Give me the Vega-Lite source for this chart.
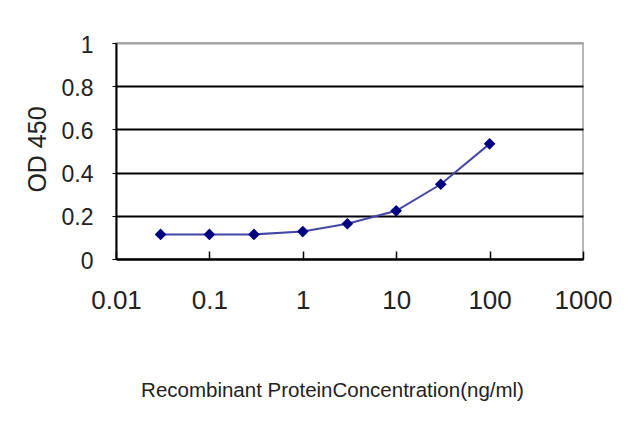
{
  "$schema": "https://vega.github.io/schema/vega-lite/v6.json",
  "autosize": "none",
  "width": 467,
  "height": 216,
  "padding": {"left": 116, "top": 43, "right": 57, "bottom": 168},
  "background": "white",
  "config": {
    "view": {"stroke": "#a0a0a0", "strokeWidth": 1.5},
    "font": "Liberation Sans"
  },
  "data": {
    "values": [
      {"conc": 0.03, "od": 0.114},
      {"conc": 0.1, "od": 0.114},
      {"conc": 0.3, "od": 0.114},
      {"conc": 1, "od": 0.127},
      {"conc": 3, "od": 0.163},
      {"conc": 10, "od": 0.223},
      {"conc": 30, "od": 0.346},
      {"conc": 100, "od": 0.533}
    ]
  },
  "encoding": {
    "x": {
      "field": "conc",
      "type": "quantitative",
      "scale": {"type": "log", "domain": [0.01, 1000], "nice": false},
      "axis": {
        "values": [0.01, 0.1, 1, 10, 100, 1000],
        "format": "~g",
        "grid": false,
        "domainColor": "black",
        "domainWidth": 2,
        "ticks": true,
        "tickColor": "black",
        "tickWidth": 1.5,
        "tickSize": -8,
        "labelFont": "Liberation Sans",
        "labelFontSize": 26,
        "labelColor": "#222",
        "labelBaseline": "middle",
        "labelPadding": 49,
        "labelFlush": false,
        "title": "Recombinant ProteinConcentration(ng/ml)",
        "titleFont": "Liberation Sans",
        "titleFontSize": 20.5,
        "titleFontWeight": "normal",
        "titleColor": "#222",
        "titleAnchor": "start",
        "titleAlign": "center",
        "titleBaseline": "middle",
        "titleX": 216,
        "titleY": 131
      }
    },
    "y": {
      "field": "od",
      "type": "quantitative",
      "scale": {"domain": [0, 1], "nice": false},
      "axis": {
        "values": [0, 0.2, 0.4, 0.6, 0.8, 1],
        "format": "~g",
        "grid": true,
        "gridColor": {"condition": {"test": "datum.value === 1", "value": "#a0a0a0"}, "value": "black"},
        "gridWidth": 2,
        "gridOpacity": 1,
        "domainColor": "black",
        "domainWidth": 2,
        "tickColor": "black",
        "tickSize": 4,
        "labelFont": "Liberation Sans",
        "labelFontSize": 23,
        "labelColor": "#222",
        "labelPadding": 19,
        "labelOffset": 2,
        "labelFlush": false,
        "title": "OD 450",
        "titleFont": "Liberation Sans",
        "titleFontSize": 25,
        "titleFontWeight": "normal",
        "titleColor": "#222",
        "titleAngle": -90,
        "titleAlign": "center",
        "titleBaseline": "middle",
        "titleX": -79,
        "titleY": 106
      }
    }
  },
  "layer": [
    {"mark": {"type": "line", "color": "#4545a5", "strokeWidth": 2}},
    {"mark": {"type": "point", "shape": "diamond", "filled": true, "color": "#000080", "opacity": 1, "size": 135}}
  ]
}
